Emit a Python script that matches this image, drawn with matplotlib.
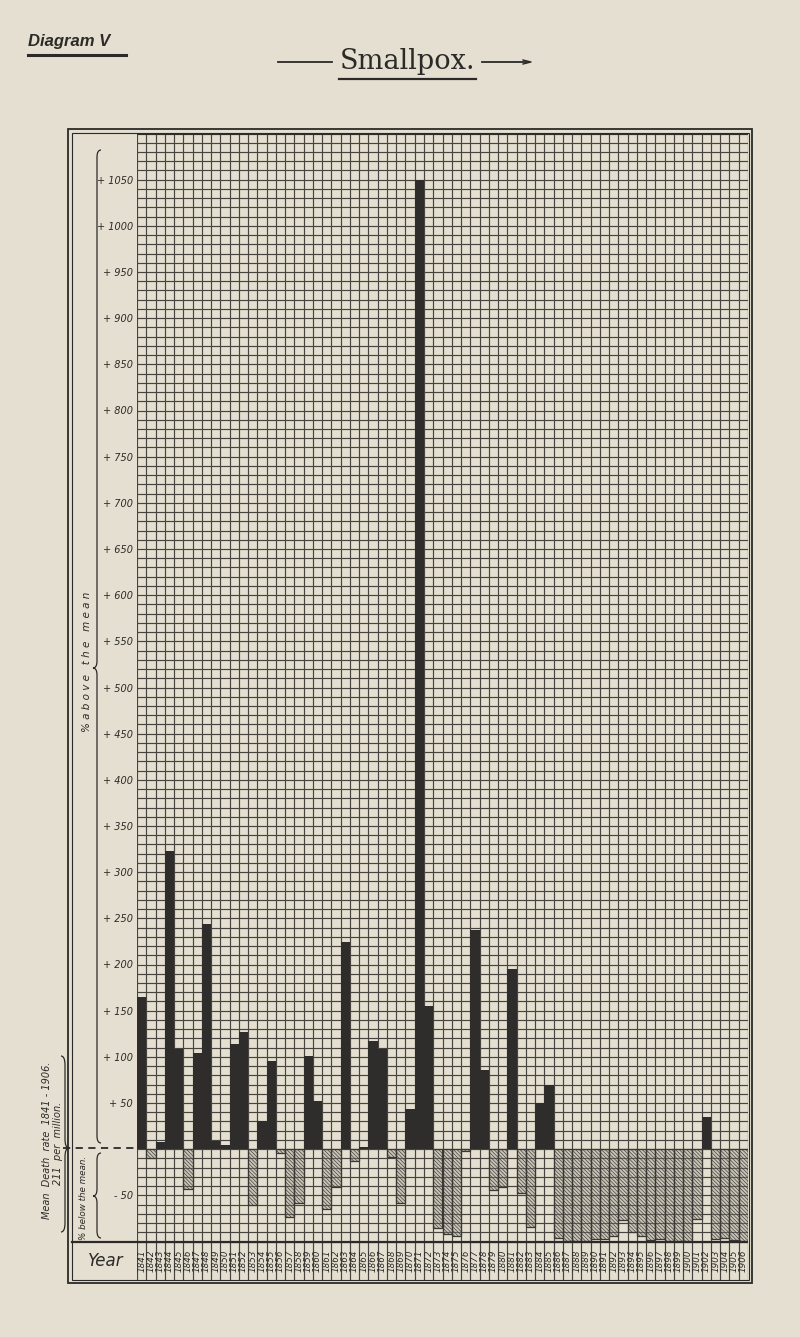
import matplotlib
matplotlib.use('Agg')
import matplotlib.pyplot as plt
from matplotlib.path import Path
from matplotlib.patches import PathPatch, Rectangle

# smallpox death rate per year, % above (+) or below (-) the 1841-1906 mean
years = list(range(1841, 1907))
pct_from_mean = [
    165, -10, 8, 323, 109, -43, 104, 244, 9, 4,          # 1841-1850
    114, 127, -60, 31, 95, -4, -74, -58, 101, 52,        # 1851-1860
    -65, -41, 224, -13, 2, 117, 108, -9, -58, 43,        # 1861-1870
    1050, 155, -85, -92, -94, -2, 237, 86, -44, -41,     # 1871-1880
    195, -47, -84, 50, 70, -96, -99, -99, -99, -97,      # 1881-1890
    -97, -94, -77, -90, -94, -98, -97, -99, -99, -99,    # 1891-1900
    -76, 35, -97, -96, -98, -99,                         # 1901-1906
]
above_ticks = list(range(50, 1051, 50))
above_labels = ['+ %d' % v for v in above_ticks]
below_ticks = [-50]
below_labels = ['- 50']

paper = '#e4dfd0'
ink = '#2c2a28'

fig = plt.figure(figsize=(8, 13.37), dpi=100, facecolor=paper)

# overlay in pixel coordinates for the frame, braces and headings
deco = fig.add_axes([0, 0, 1, 1])
deco.set_xlim(0, 800)
deco.set_ylim(1337, 0)
deco.axis('off')


def brace(ax, x, y0, y1, ym, d, w=4, r=7, lw=0.9):
    # curly brace on a vertical line, tip pointing to side d (+1 right, -1 left)
    verts = [(x - d * w, y0), (x, y0), (x, y0 + r),
             (x, ym - r), (x, ym), (x + d * w, ym),
             (x, ym), (x, ym + r),
             (x, y1 - r), (x, y1), (x - d * w, y1)]
    codes = [Path.MOVETO, Path.CURVE3, Path.CURVE3,
             Path.LINETO, Path.CURVE3, Path.CURVE3,
             Path.CURVE3, Path.CURVE3,
             Path.LINETO, Path.CURVE3, Path.CURVE3]
    ax.add_patch(PathPatch(Path(verts, codes), fill=False, lw=lw, ec=ink))


# headings
deco.text(28, 46, 'Diagram V', fontsize=12, fontweight='bold', style='italic',
          family='Liberation Sans', color=ink, ha='left', va='baseline')
deco.plot([28, 126], [55, 55], color=ink, lw=2.2)
deco.text(407, 69, 'Smallpox.', fontsize=19.5, family='DejaVu Serif',
          color=ink, ha='center', va='baseline')
deco.plot([339, 476], [79, 79], color=ink, lw=1.6)
deco.plot([278, 332], [62, 62], color=ink, lw=1.3)
deco.plot([482, 528], [62, 62], color=ink, lw=1.3)
deco.plot([523, 531, 523], [60, 62, 64], color=ink, lw=1.0)

# frame
deco.add_patch(Rectangle((68, 129), 684, 1154, fill=False, ec=ink, lw=1.3))
deco.add_patch(Rectangle((71.5, 132.5), 677.5, 1147.5, fill=False, ec=ink, lw=0.8))
deco.plot([71.5, 137], [1241.5, 1241.5], color=ink, lw=1.6)
deco.plot([63, 137], [1148, 1148], color=ink, lw=1.3, dashes=(4, 3))

# brackets and side texts
brace(deco, 97, 150, 1143, 668, -1)
brace(deco, 97, 1153, 1238, 1196, -1)
brace(deco, 65, 1056, 1232, 1148, 1, w=4, r=9)
deco.text(87, 662, '% a b o v e   t h e   m e a n', rotation=90, fontsize=7.5,
          style='italic', color=ink, ha='center', va='center')
deco.text(84, 1198, '% below the mean.', rotation=90, fontsize=6.3,
          style='italic', color=ink, ha='center', va='center')
deco.text(47, 1140, 'Mean  Death  rate  1841 - 1906.', rotation=90, fontsize=7,
          style='italic', color=ink, ha='center', va='center')
deco.text(58, 1143, '211  per  million.', rotation=90, fontsize=7,
          style='italic', color=ink, ha='center', va='center')
deco.text(106, 1261, 'Year', fontsize=12, style='italic', color=ink,
          ha='center', va='center')

# main grid area
ax = fig.add_axes([137 / 800, (1337 - 1280) / 1337, 611 / 800, (1280 - 133.5) / 1337])
ax.patch.set_alpha(0)
y_low = -100 - 38.5 / (1108 / 1200)
ax.set_xlim(years[0] - 0.5, years[-1] + 0.5)
ax.set_ylim(y_low, 1100)
for s in ax.spines.values():
    s.set_visible(False)

grid_col = '#47443f'
ax.hlines(range(-100, 1101, 10), years[0] - 0.5, years[-1] + 0.5,
          color=grid_col, lw=0.85, zorder=1)
ax.vlines([y - 0.5 for y in years] + [years[-1] + 0.5], y_low, 1100,
          color=grid_col, lw=0.85, zorder=1)
ax.hlines([-100], years[0] - 0.5, years[-1] + 0.5, color=ink, lw=1.6, zorder=4)
ax.hlines([1100], years[0] - 0.5, years[-1] + 0.5, color=ink, lw=1.2, zorder=4)

pos_years = [y for y, v in zip(years, pct_from_mean) if v > 0]
pos_vals = [v for v in pct_from_mean if v > 0]
neg_years = [y for y, v in zip(years, pct_from_mean) if v < 0]
neg_vals = [v for v in pct_from_mean if v < 0]

plt.rcParams['hatch.linewidth'] = 0.45
ax.bar(pos_years, pos_vals, width=1.0, color='#2f2d2b', lw=0, zorder=3)
ax.bar(neg_years, neg_vals, width=1.0, facecolor=(0.6, 0.58, 0.54, 0.35),
       edgecolor='#3a3835', hatch='\\' * 9, lw=0.9, zorder=2)

ax.set_yticks(above_ticks + below_ticks)
ax.set_yticklabels(above_labels + below_labels, fontsize=7, style='italic', color=ink)
ax.tick_params(axis='y', length=0, pad=3)
ax.set_xticks([])

for y in years:
    ax.text(y, (y_low - 100) / 2, str(y), rotation=90, fontsize=6.3, style='italic',
            color=ink, ha='center', va='center')

fig.savefig('out.png', dpi=100, facecolor=paper)
